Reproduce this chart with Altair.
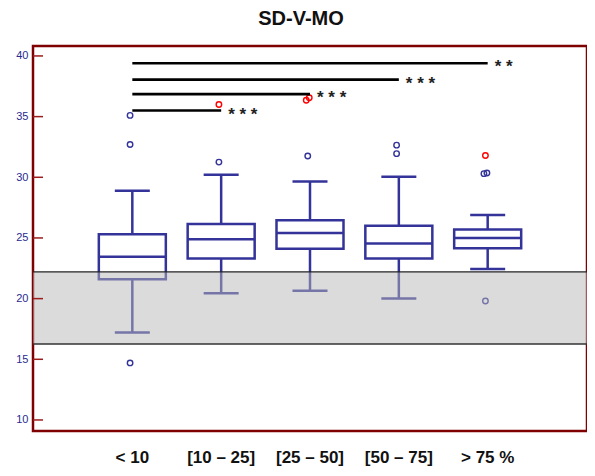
import altair as alt
import pandas as pd

categories = ["< 10", "[10 – 25]", "[25 – 50]", "[50 – 75]", "> 75 %"]
whisk_lo = [17.2, 20.45, 20.65, 20.0, 22.45]
q1 = [21.6, 23.3, 24.1, 23.3, 24.15]
median = [23.45, 24.9, 25.4, 24.55, 25.0]
q3 = [25.3, 26.15, 26.45, 26.0, 25.7]
whisk_hi = [28.9, 30.2, 29.65, 30.05, 26.9]

out_cat = ["< 10", "< 10", "< 10", "[10 – 25]", "[10 – 25]", "[25 – 50]", "[25 – 50]",
           "[25 – 50]", "[50 – 75]", "[50 – 75]", "> 75 %", "> 75 %", "> 75 %", "> 75 %"]
out_val = [35.1, 32.7, 14.7, 36.0, 31.25, 36.35, 36.55, 31.75, 32.65, 31.95, 31.8,
           30.3, 30.35, 19.8]
out_col = ["#333399", "#333399", "#333399", "#ff0000", "#333399", "#ff0000", "#ff0000",
           "#333399", "#333399", "#333399", "#ff0000", "#333399", "#333399", "#333399"]
out_side = ["mid", "mid", "mid", "mid", "mid", "left", "right", "mid", "mid", "mid", "mid",
            "left", "right", "mid"]

sig_from = ["< 10", "< 10", "< 10", "< 10"]
sig_to = ["[10 – 25]", "[25 – 50]", "[50 – 75]", "> 75 %"]
sig_y = [35.5, 36.85, 38.05, 39.4]
sig_label = ["* * *", "* * *", "* * *", "* *"]

band_lo = [16.25]
band_hi = [22.2]
y_ticks = [10, 15, 20, 25, 30, 35, 40]

BLUE = "#333399"
W, H = 554, 385
PAD_OUT = 0.618
HALF_BAND = W / (len(categories) + 2 * PAD_OUT) / 2

box_df = pd.DataFrame({"cat": categories, "lo": whisk_lo, "q1": q1, "med": median,
                       "q3": q3, "hi": whisk_hi})
out_df = pd.DataFrame({"cat": out_cat, "val": out_val, "col": out_col, "side": out_side})
sig_df = pd.DataFrame({"a": sig_from, "b": sig_to, "y": sig_y, "lab": sig_label})
band_df = pd.DataFrame({"lo": band_lo, "hi": band_hi})
tick_df = pd.DataFrame({"t": y_ticks})

yscale = alt.Scale(domain=[9.09, 40.82], nice=False, zero=False)
xscale = alt.Scale(type="band", domain=categories, paddingInner=0, paddingOuter=PAD_OUT)
xaxis = alt.Axis(domain=False, ticks=False, labelFontSize=17, labelFontWeight="bold",
                 labelColor="#111111", labelFont="Liberation Sans", labelPadding=18,
                 labelAngle=0, title=None)
yaxis = alt.Axis(values=y_ticks, domain=False, ticks=False, grid=False, labelFontSize=11,
                 labelColor="#2a2a8f", labelFont="Liberation Sans", labelPadding=5,
                 title=None)

X = alt.X("cat:N", scale=xscale, axis=xaxis, sort=categories)
base = alt.Chart(box_df)

w_low = base.mark_rule(color=BLUE, strokeWidth=2.5, opacity=1).encode(
    x=X, y=alt.Y("lo:Q", scale=yscale, axis=yaxis), y2="q1:Q")
w_high = base.mark_rule(color=BLUE, strokeWidth=2.5, opacity=1).encode(
    x=X, y=alt.Y("q3:Q", scale=yscale), y2="hi:Q")
cap_lo = base.mark_tick(color=BLUE, thickness=2.5, size=35, opacity=1).encode(
    x=X, y=alt.Y("lo:Q", scale=yscale))
cap_hi = base.mark_tick(color=BLUE, thickness=2.5, size=35, opacity=1).encode(
    x=X, y=alt.Y("hi:Q", scale=yscale))
box = base.mark_bar(size=67, fill="white", stroke=BLUE, strokeWidth=2.5, opacity=1).encode(
    x=X, y=alt.Y("q1:Q", scale=yscale), y2="q3:Q")
med = base.mark_tick(color=BLUE, thickness=2.5, size=67, opacity=1).encode(
    x=X, y=alt.Y("med:Q", scale=yscale))

outl = alt.Chart(out_df).mark_point(shape="circle", filled=False, size=30,
                                     strokeWidth=1.4, opacity=1).encode(
    x=X, y=alt.Y("val:Q", scale=yscale),
    xOffset=alt.XOffset("side:N", scale=alt.Scale(
        domain=["left", "mid", "right"],
        range=[HALF_BAND - 4.5, HALF_BAND, HALF_BAND + 4.5])),
    color=alt.Color("col:N", scale=None))

band = alt.Chart(band_df).mark_rect(fill="#b8b8b8", opacity=0.5).encode(
    x=alt.value(0), x2=alt.value(W), y=alt.Y("lo:Q", scale=yscale), y2="hi:Q")
band_top = alt.Chart(band_df).mark_rule(color="#222222", strokeWidth=1.2).encode(
    x=alt.value(0), x2=alt.value(W), y=alt.Y("hi:Q", scale=yscale))
band_bot = alt.Chart(band_df).mark_rule(color="#333333", strokeWidth=1.5).encode(
    x=alt.value(0), x2=alt.value(W), y=alt.Y("lo:Q", scale=yscale))

sig = alt.Chart(sig_df).mark_rule(color="black", strokeWidth=2.6).encode(
    x=alt.X("a:N", scale=xscale, sort=categories), x2="b:N",
    y=alt.Y("y:Q", scale=yscale))
stars = alt.Chart(sig_df).mark_text(align="left", baseline="middle", dx=7, dy=4,
                                    fontSize=17, fontWeight="bold", font="Liberation Sans",
                                    color="#222222").encode(
    x=alt.X("b:N", scale=xscale, sort=categories), y=alt.Y("y:Q", scale=yscale),
    text="lab:N")

ticks = alt.Chart(tick_df).mark_rule(color="#9b1c1c", strokeWidth=1.5).encode(
    x=alt.value(0), x2=alt.value(10), y=alt.Y("t:Q", scale=yscale))

chart = alt.layer(
    w_low, w_high, cap_lo, cap_hi, box, med, outl, band, band_top, band_bot,
    sig, stars, ticks
).properties(
    width=W, height=H,
    autosize=alt.AutoSizeParams(type="none"),
    padding={"left": 25, "top": 38, "right": 0, "bottom": 37},
    title=alt.TitleParams("SD-V-MO", fontSize=20, fontWeight="bold",
                          font="Liberation Sans", color="#111111",
                          anchor="middle", dx=-9, offset=17),
).configure_view(stroke="#7f0000", strokeWidth=2.5)

chart.save("out.html", embed_options={"renderer": "svg", "actions": False})
